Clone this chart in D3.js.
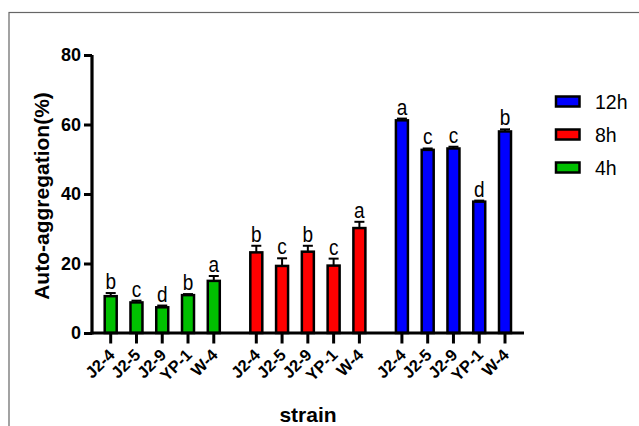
<!DOCTYPE html>
<html><head><meta charset="utf-8">
<script src="https://cdn.jsdelivr.net/npm/d3@7"></script>
<style>body{margin:0;background:#fff}svg{display:block}</style>
</head><body>
<svg id="c" width="639" height="426"></svg>
<script>
const strains = ["J2-4","J2-5","J2-9","YP-1","W-4"];
const groups = ["4h","8h","12h"];
const colors = ["#00c000","#ff0000","#0000ff"];
const values4h = [10.6, 8.8, 7.4, 10.9, 15.0];
const errors4h = [0.9, 0.5, 0.5, 0.3, 1.4];
const values8h = [23.2, 19.3, 23.4, 19.4, 30.2];
const errors8h = [1.9, 2.2, 1.7, 2.0, 1.8];
const values12h = [61.2, 52.7, 53.1, 37.8, 58.0];
const errors12h = [0.5, 0.4, 0.5, 0.3, 0.6];
const letters4h = ["b","c","d","b","a"];
const letters8h = ["b","c","b","c","a"];
const letters12h = ["a","c","c","d","b"];
const yTicks = [0,20,40,60,80];
const legendOrder = ["12h","8h","4h"];

const vals=[values4h,values8h,values12h], errs=[errors4h,errors8h,errors12h], lets=[letters4h,letters8h,letters12h];
const data=[];
groups.forEach((g,gi)=>strains.forEach((s,i)=>data.push({g,gi,s,i,v:vals[gi][i],e:errs[gi][i],l:lets[gi][i],pos:gi*5.65+i})));

const svg=d3.select("#c");
const font="Arial, 'Liberation Sans', Helvetica, sans-serif";
// frame
svg.append("rect").attr("x",9).attr("y",12.5).attr("width",700).attr("height",500).attr("fill","none").attr("stroke","#666").attr("stroke-width",1.2);

const y=d3.scaleLinear().domain([0,80]).range([333,55]);
const x=d3.scaleLinear().domain([0,15.3]).range([110.7,505]);
const x0=92, x1=524;

// bars
const bw=12;
svg.selectAll("rect.bar").data(data).enter().append("rect")
 .attr("x",d=>x(d.pos)-bw/2).attr("y",d=>y(d.v)).attr("width",bw).attr("height",d=>y(0)-y(d.v))
 .attr("fill",d=>colors[d.gi]).attr("stroke","#000").attr("stroke-width",2.5);
// error bars
const eb=svg.append("g").attr("stroke","#000").attr("stroke-width",2);
data.forEach(d=>{
  eb.append("line").attr("x1",x(d.pos)).attr("x2",x(d.pos)).attr("y1",y(d.v)).attr("y2",y(d.v+d.e));
  eb.append("line").attr("x1",x(d.pos)-5).attr("x2",x(d.pos)+5).attr("y1",y(d.v+d.e)).attr("y2",y(d.v+d.e));
});
// letters
svg.selectAll("text.let").data(data).enter().append("text")
 .attr("transform",d=>`translate(${x(d.pos)},${y(d.v+d.e)-4}) scale(1,1.12)`).attr("text-anchor","middle")
 .attr("font-family",font).attr("font-size",19).text(d=>d.l);

// y axis
const ya=svg.append("g").attr("transform",`translate(${x0},0)`).call(d3.axisLeft(y).tickValues(yTicks).tickSize(8).tickPadding(3).tickSizeOuter(0));
ya.select(".domain").attr("stroke-width",3.2).attr("d",`M0,${y(80)}V${y(0)+1.5}`);
ya.selectAll(".tick line").attr("stroke-width",3);
ya.selectAll(".tick text").attr("font-family",font).attr("font-weight","bold").attr("font-size",18).attr("fill","#000");

// x axis
svg.append("line").attr("x1",x0-1.5).attr("x2",x1).attr("y1",y(0)).attr("y2",y(0)).attr("stroke","#000").attr("stroke-width",3.2);
svg.selectAll("line.xt").data(data).enter().append("line")
 .attr("x1",d=>x(d.pos)).attr("x2",d=>x(d.pos)).attr("y1",y(0)).attr("y2",y(0)+10.5).attr("stroke","#000").attr("stroke-width",3);
svg.selectAll("text.xl").data(data).enter().append("text")
 .attr("transform",d=>`translate(${x(d.pos)+5},${y(0)+23}) rotate(-45)`)
 .attr("text-anchor","end").attr("font-family",font).attr("font-weight","bold").attr("font-size",16.5).text(d=>d.s);

// axis titles
svg.append("text").attr("transform","translate(49,196) rotate(-90)").attr("text-anchor","middle")
 .attr("font-family",font).attr("font-weight","bold").attr("font-size",21).text("Auto-aggregation(%)");
svg.append("text").attr("x",308).attr("y",422).attr("text-anchor","middle")
 .attr("font-family",font).attr("font-weight","bold").attr("font-size",21).text("strain");

// legend
const lg=svg.append("g");
legendOrder.forEach((k,i)=>{
  const gi=groups.indexOf(k);
  lg.append("rect").attr("x",556).attr("y",96.5+i*33).attr("width",23.5).attr("height",10).attr("fill",colors[gi]).attr("stroke","#000").attr("stroke-width",2.5);
  lg.append("text").attr("x",595).attr("y",108.5+i*33).attr("font-family",font).attr("font-size",19.5).text(k);
});
</script>
</body></html>
